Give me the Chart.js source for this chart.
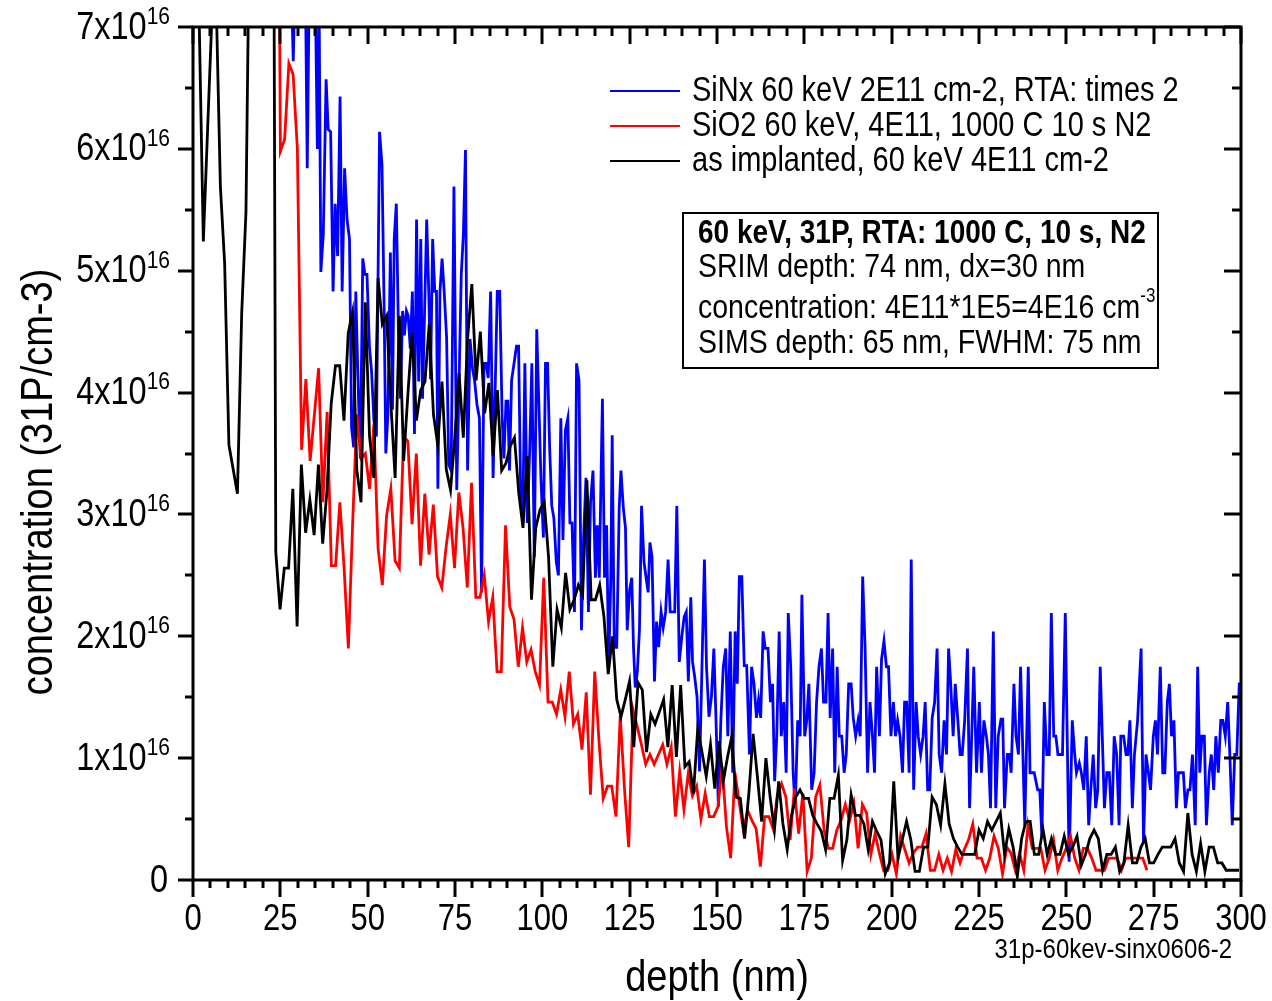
<!DOCTYPE html>
<html>
<head>
<meta charset="utf-8">
<script src="https://cdn.jsdelivr.net/npm/chart.js@4.4.0/dist/chart.umd.min.js"></script>
<style>
  body { margin: 0; background: #fff; }
  canvas { display: block; }
</style>
</head>
<body>
<canvas id="graph" width="1272" height="1001"></canvas>
<script>
// concentrations are in units of 1e16 cm-3
var xTicks = [0, 25, 50, 75, 100, 125, 150, 175, 200, 225, 250, 275, 300];
var yTicks = [0, 1, 2, 3, 4, 5, 6, 7];

var seriesLabels = [
  "SiNx 60 keV 2E11 cm-2, RTA: times 2",
  "SiO2 60 keV, 4E11, 1000 C 10 s N2",
  "as implanted, 60 keV 4E11 cm-2"
];

// as implanted: depth grid start / step (nm)
var blackStart = 0.52, blackStep = 1.22;
var blackConc = [
  12, 7.1, 5.24, 6.16, 7.07, 7.24, 5.69, 5.06, 3.57, 3.37,
  3.17, 4.65, 5.48, 8.4, 10, 11, 11, 10, 14, 2.69,
  2.22, 2.56, 2.56, 3.21, 2.08, 3.41, 2.85, 3.12, 2.83, 3.41,
  2.76, 3.19, 3.91, 4.22, 4.22, 3.77, 4.49, 4.66, 3.37, 3.10,
  4.74, 3.64, 3.30, 4.94, 4.56, 4.63, 3.91, 3.30, 4.63, 3.44,
  3.99, 4.49, 3.77, 4.02, 4.09, 4.56, 3.82, 3.57, 4.09, 3.37,
  3.20, 3.63, 4.16, 3.63, 4.44, 4.89, 4.10, 4.50, 3.83, 4.08,
  3.48, 4.02, 3.36, 3.42, 3.56, 3.63, 3.18, 2.89, 3.48, 2.30,
  2.89, 3.04, 3.10, 2.65, 1.75, 2.22, 2.07, 2.52, 2.22, 2.30,
  2.42, 2.34, 3.28, 2.30, 2.30, 2.42, 2.16, 1.69, 2.00, 1.48,
  1.34, 1.48, 1.63, 1.09, 1.62, 1.56, 1.05, 1.36, 1.28, 1.38,
  1.48, 1.09, 1.60, 1.01, 1.60, 0.93, 0.97, 0.71, 1.24, 1.05,
  0.85, 1.11, 0.75, 1.14, 0.81, 1.01, 1.18, 0.68, 0.67, 0.34,
  0.71, 1.20, 0.85, 0.48, 1.00, 0.68, 0.41, 0.81, 0.46, 0.25,
  0.53, 0.68, 0.74, 0.67, 0.67, 0.53, 0.46, 0.40, 0.25, 0.67,
  0.67, 0.86, 0.16, 0.33, 0.70, 0.53, 0.53, 0.46, 0.25, 0.48,
  0.40, 0.33, 0.05, 0.14, 0.81, 0.18, 0.33, 0.48, 0.33, 0.07,
  0.07, 0.27, 0.27, 0.68, 0.62, 0.45, 0.79, 0.46, 0.34, 0.27,
  0.21, 0.21, 0.21, 0.21, 0.41, 0.34, 0.48, 0.41, 0.48, 0.55,
  0.21, 0.42, 0.27, 0.03, 0.34, 0.48, 0.48, 0.21, 0.21, 0.42,
  0.21, 0.34, 0.21, 0.21, 0.36, 0.21, 0.27, 0.36, 0.12, 0.21,
  0.34, 0.41, 0.34, 0.08, 0.21, 0.21, 0.27, 0.07, 0.14, 0.45,
  0.14, 0.14, 0.27, 0.34, 0.14, 0.14, 0.21, 0.27, 0.27, 0.27,
  0.34, 0.14, 0.07, 0.55, 0.21, 0.07, 0.30, 0.07, 0.27, 0.27,
  0.14, 0.14, 0.08, 0.08, 0.08, 0.08
];

// SiO2 RTA: depth grid start / step (nm)
var redStart = 23.8, redStep = 1.216;
var redConc = [
  12,
  5.98, 6.08, 6.70, 6.61, 6.00, 3.53, 4.11, 3.44, 3.82, 4.20,
  3.10, 3.84, 2.58, 2.58, 3.10, 2.56, 1.90, 2.92, 3.82, 3.46,
  3.50, 3.21, 3.74, 2.72, 2.42, 2.99, 3.21, 2.62, 2.56, 3.64,
  3.60, 2.92, 3.50, 2.58, 3.17, 2.67, 3.08, 2.49, 2.40, 2.73,
  3.00,
  2.56, 3.18, 2.89, 2.40, 3.26, 2.32, 2.32, 2.50, 2.12, 2.32,
  1.71, 1.71, 2.91, 2.24, 2.14, 1.75, 2.07, 1.79, 1.89, 1.71,
  1.60, 2.48, 1.46, 1.46, 1.36, 1.56, 1.34, 1.71, 1.28, 1.36,
  1.07, 1.54, 0.70, 1.71, 1.14, 0.67, 0.77, 0.77, 0.52, 1.35,
  0.75, 0.27, 1.40, 1.26, 1.11, 0.95, 1.03, 0.95, 1.03, 1.11,
  0.95, 1.09, 0.52, 0.89, 0.58, 0.87, 0.69, 0.77, 0.50, 0.71,
  0.52, 0.52,
  0.60, 0.93, 0.44, 0.18, 0.88, 0.64, 0.41, 0.57, 0.49, 0.42,
  0.11, 0.52, 0.52, 0.42, 0.70, 0.79, 0.68, 0.33, 0.75, 0.38,
  0.71, 0.07, 0.18, 0.68, 0.78, 0.41, 0.26, 0.26, 0.41, 0.49,
  0.62, 0.49, 0.63, 0.26, 0.62, 0.55, 0.21, 0.38, 0.22, 0.08,
  0.08, 0.21, 0.05, 0.36, 0.25, 0.14, 0.22, 0.27, 0.27, 0.38,
  0.08, 0.08, 0.21, 0.08, 0.18, 0.07, 0.25, 0.14, 0.25, 0.33,
  0.46,
  0.18, 0.18, 0.08, 0.18, 0.36, 0.26, 0.05, 0.27, 0.22, 0.08,
  0.22, 0.08, 0.45, 0.26, 0.26, 0.26, 0.08, 0.18, 0.33, 0.08,
  0.18, 0.26, 0.36, 0.18, 0.08, 0.26, 0.26, 0.18, 0.08, 0.08,
  0.08, 0.18, 0.18, 0.18, 0.08, 0.18, 0.18, 0.18, 0.18, 0.18,
  0.08
];

// SiNx RTA (times 2): depths
var blueDepth = [
  28.1, 28.7, 29.3, 29.9, 30.5, 31.1, 31.7, 32.1, 32.7, 33.3, 33.9, 34.5, 35.0, 35.6, 36.1,
  36.6, 37.3, 38.1, 38.7, 39.4, 40.1, 40.7, 41.4, 42.1, 42.7, 43.4, 44.1, 44.8, 45.4, 46.0,
  46.6, 47.2, 47.9, 48.6, 49.2, 49.8, 50.5, 51.1, 51.8, 52.5, 53.4, 54.1, 54.7, 55.2, 55.8,
  56.5, 57.1, 57.6, 58.2, 58.8, 59.4, 60.0, 60.5, 61.1, 61.6, 62.2, 62.8, 63.4, 64.0, 64.6,
  65.2, 65.7, 66.3, 66.9, 67.5, 68.0, 68.6, 69.2, 69.7, 70.1, 70.7, 71.3, 71.9, 72.6, 73.2,
  73.9, 74.7, 75.5, 76.1, 76.8, 77.4, 78.0, 78.6, 79.3, 80.0, 80.6, 81.3, 82.0, 82.6, 83.3,
  83.9, 84.5, 85.2, 85.9, 86.5, 87.1, 87.8, 88.5, 89.0, 89.6, 90.1, 90.6, 91.2, 91.9, 92.6,
  93.2, 93.8, 94.4, 95.0, 95.7, 96.4, 97.0, 97.7, 98.4, 99.0, 99.6, 100.3, 100.9, 101.5, 102.1,
  102.7, 103.3, 104.0, 104.6, 105.3, 105.9, 106.6, 107.3, 107.9, 108.5, 109.2, 109.8, 110.5, 111.2, 111.8,
  112.5, 113.2, 113.8, 114.5, 115.2, 115.7, 116.3, 117.2, 117.8, 118.4, 119.0, 119.6, 120.0, 120.6, 121.3,
  122.0, 122.5, 123.2, 123.8, 124.3, 125.0, 125.6, 126.1, 126.6, 127.2, 127.8, 128.4, 129.1, 129.7, 130.3,
  130.8, 131.4, 132.1, 132.7, 133.3, 134.0, 134.6, 135.3, 136.0, 136.6, 137.2, 137.9, 138.5, 139.2, 139.9,
  140.6, 141.2, 141.8, 142.5, 143.0, 143.6, 144.3, 145.0, 145.7, 146.4, 147.0, 147.7, 148.4, 149.1, 149.7,
  150.4, 151.1, 151.8, 152.5, 153.1, 153.8, 154.5, 155.2, 155.8, 156.4, 157.1, 157.8, 158.5, 159.3, 159.9,
  160.6, 161.3, 161.9, 162.5, 163.2, 163.8, 164.6, 165.3, 165.9, 166.5, 167.1, 167.8, 168.4, 169.1, 169.8,
  170.4, 171.1, 171.8, 172.4, 173.1, 173.8, 174.3, 175.1, 175.7, 176.3, 177.1, 177.8, 178.5, 179.2, 179.9,
  180.5, 181.2, 181.8, 182.4, 183.1, 183.7, 184.4, 185.0, 185.7, 186.4, 187.0, 187.7, 188.4, 189.0, 189.7,
  190.4, 191.0, 191.7, 192.4, 193.1, 193.8, 194.5, 195.1, 195.7, 196.5, 197.1, 197.8, 198.5, 199.1, 199.8,
  200.5, 201.1, 201.7, 202.4, 203.1, 203.7, 204.3, 205.0, 205.6, 206.3, 207.0, 207.6, 208.3, 209.0, 209.6,
  210.3, 210.9, 211.6, 212.3, 213.0, 213.6, 214.3, 215.0, 215.7, 216.3, 216.9, 217.6, 218.2, 218.9, 219.6,
  220.2, 220.9, 221.7, 222.3, 223.5, 224.3, 225.1, 225.7, 226.4, 227.2, 227.7, 228.3, 229.1, 229.8, 230.5,
  231.3, 231.8, 232.3, 233.1, 233.7, 234.2, 235.0, 235.6, 236.3, 236.9, 237.5, 238.1, 239.1, 239.6, 240.2,
  240.8, 241.8, 242.4, 243.0, 243.7, 244.4, 245.1, 245.7, 246.4, 247.0, 247.6, 248.3, 248.9, 249.7, 250.8,
  251.7, 252.4, 252.9, 253.7, 254.3, 255.0, 255.7, 256.4, 257.0, 257.7, 258.4, 259.0, 259.7, 260.9, 261.6,
  262.3, 263.0, 263.7, 264.4, 265.1, 265.6, 266.4, 267.1, 267.6, 268.2, 268.9, 269.5, 270.4, 271.4, 272.1,
  272.8, 273.5, 274.1, 274.9, 275.5, 276.1, 276.9, 277.6, 278.2, 278.9, 279.5, 280.1, 280.8, 281.5, 282.1,
  282.8, 283.5, 284.1, 284.8, 285.4, 286.1, 286.9, 287.6, 288.2, 288.8, 289.5, 290.1, 290.9, 291.5, 292.2,
  292.8, 293.5, 294.2, 294.8, 295.5, 296.2, 296.8, 297.5, 298.2, 298.8, 299.5, 300.1
];
var blueConc = [
  7.4, 6.72, 7.5, 8.2, 8.6, 8.0, 7.8, 7.6, 5.84, 7.4, 8.0, 7.8, 7.3, 6.00, 7.2,
  4.99, 5.30, 6.57, 6.16, 6.14, 4.83, 5.55, 5.12, 6.43, 4.83, 5.84, 5.42, 5.26, 3.71, 3.55,
  4.83, 4.13, 3.46, 5.10, 4.97, 4.97, 4.38, 4.18, 3.77, 3.64, 6.14, 5.87, 4.72, 3.50, 3.82,
  5.15, 3.86, 5.26, 5.55, 4.52, 3.95, 4.67, 4.47, 4.67, 4.63, 4.36, 4.83, 3.66, 5.42, 4.09,
  5.26, 3.95, 4.67, 5.42, 4.81, 4.11, 5.26, 4.83, 4.83, 3.21, 4.83, 5.10, 4.83, 4.45, 3.41,
  3.36, 5.69, 3.20, 4.00, 4.97, 5.30, 5.99, 3.36, 4.44, 4.20, 4.10, 3.90, 3.79, 2.36, 4.24,
  4.24, 4.12, 4.83, 3.30, 4.03, 4.83, 4.83, 3.79, 3.46, 3.93, 3.93, 3.36, 4.10, 4.24, 4.38,
  4.38, 3.18, 2.93, 4.24, 2.93, 3.54, 4.24, 2.65, 4.52, 3.91, 3.30, 2.81, 4.24, 4.24, 3.54,
  3.07, 2.97, 2.61, 2.50, 3.79, 2.79, 3.69, 3.79, 2.93, 2.93, 2.20, 4.24, 4.10, 2.05, 2.81,
  3.30, 2.20, 3.10, 3.36, 2.48, 2.91, 2.48, 3.95, 2.48, 2.91, 1.75, 2.48, 3.65, 1.91, 1.91,
  3.05, 3.36, 3.05, 2.89, 2.05, 2.38, 2.48, 1.91, 1.58, 1.71, 2.05, 3.07, 2.61, 2.48, 2.36,
  2.77, 2.65, 1.63, 2.12, 1.91, 2.20, 2.07, 2.20, 2.63, 2.20, 2.20, 2.20, 3.07, 1.79, 1.99,
  2.16, 2.20, 1.63, 2.32, 1.79, 1.67, 1.50, 0.89, 1.75, 2.63, 1.75, 1.34, 1.50, 1.90, 1.33,
  0.60, 1.31, 1.75, 1.90, 1.18, 2.04, 0.88, 2.04, 1.61, 2.49, 2.49, 1.76, 1.76, 1.03, 1.75,
  1.61, 1.33, 1.48, 1.33, 2.04, 1.90, 1.90, 1.46, 1.61, 0.81, 1.18, 2.04, 1.18, 1.46, 0.88,
  2.19, 1.75, 0.88, 0.59, 1.31, 1.18, 2.34, 1.18, 1.31, 1.61, 0.74, 0.88, 1.46, 1.75, 1.90,
  1.46, 1.46, 2.19, 1.33, 1.90, 0.88, 1.75, 1.18, 1.18, 0.88, 1.03, 1.61, 1.61, 1.33, 1.18,
  1.31, 1.18, 2.49, 1.90, 0.88, 1.46, 1.18, 0.88, 1.75, 1.18, 1.81, 1.96, 1.75, 1.75, 1.18,
  1.46, 1.18, 1.31, 1.18, 0.88, 1.46, 1.46, 0.88, 2.63, 0.74, 1.46, 1.18, 1.03, 1.18, 1.46,
  0.74, 0.74, 1.33, 1.46, 1.90, 1.03, 0.88, 1.31, 1.03, 1.90, 1.61, 1.18, 1.61, 1.33, 1.03,
  1.03, 1.31, 1.90, 0.59, 1.75, 0.88, 1.46, 0.88, 1.31, 1.16, 1.03, 0.59, 2.04, 0.59, 1.18,
  1.32, 1.32, 0.59, 1.03, 1.03, 0.88, 1.61, 1.18, 1.03, 1.75, 1.10, 0.45, 1.75, 0.88, 0.88,
  0.88, 0.74, 0.74, 0.36, 1.46, 1.03, 1.03, 2.19, 1.18, 1.18, 1.03, 1.03, 1.03, 2.19, 0.15,
  1.31, 1.03, 0.88, 0.96, 0.88, 0.74, 1.18, 0.45, 0.74, 1.03, 0.59, 0.74, 1.75, 0.59, 0.88,
  0.88, 0.45, 1.18, 1.03, 0.45, 1.18, 1.18, 1.03, 1.03, 1.31, 0.59, 1.03, 1.31, 1.90, 0.31,
  1.03, 0.88, 0.74, 1.18, 1.31, 1.03, 1.75, 0.88, 0.88, 1.46, 1.61, 1.18, 1.31, 0.59, 0.88,
  0.88, 0.88, 0.59, 0.74, 0.74, 1.03, 0.45, 1.75, 0.88, 1.18, 1.18, 0.45, 0.88, 1.03, 0.74,
  1.18, 0.88, 1.31, 1.31, 1.18, 1.46, 1.03, 0.45, 1.03, 1.03, 1.61, 1.61
];

function gridPoints(start, step, values) {
  return values.map(function (v, i) { return { x: start + i * step, y: v }; });
}
function pairPoints(xs, values) {
  return values.map(function (v, i) { return { x: xs[i], y: v }; });
}

var FONT = "'Liberation Sans', Arial, sans-serif";
var STRETCH = 1.18; // the original lettering is taller than Arial at the same width

var plotLayout = {
  id: "plotLayout",
  afterDatasetsDraw: function (chart) {
    var ctx = chart.ctx, a = chart.chartArea;
    var xs = chart.scales.x, ys = chart.scales.y;
    ctx.save();
    ctx.strokeStyle = "#000";
    ctx.fillStyle = "#000";
    ctx.lineWidth = 3;
    ctx.lineCap = "butt";
    ctx.strokeRect(a.left, a.top, a.right - a.left, a.bottom - a.top);

    function seg(x1, y1, x2, y2) {
      ctx.beginPath(); ctx.moveTo(x1, y1); ctx.lineTo(x2, y2); ctx.stroke();
    }
    function text(str, x, y, font, align) {
      ctx.save();
      ctx.font = font;
      ctx.textAlign = align || "left";
      ctx.textBaseline = "middle";
      ctx.translate(x, y);
      ctx.scale(1, STRETCH);
      ctx.fillText(str, 0, 0);
      ctx.restore();
    }
    function width(str, font) {
      ctx.font = font;
      return ctx.measureText(str).width;
    }

    // x ticks: out at bottom, in at top; minor every 5 nm
    for (var v = 0; v <= 300; v += 5) {
      var px = Math.round(xs.getPixelForValue(v));
      var major = v % 25 === 0;
      seg(px, a.bottom, px, a.bottom + (major ? 17 : 8));
      seg(px, a.top, px, a.top + (major ? 17 : 9));
    }
    // y ticks: out at left, in at right; minor every 0.5
    for (var w = 0; w <= 7; w += 0.5) {
      var py = Math.round(ys.getPixelForValue(w));
      var maj = w % 1 === 0;
      seg(a.left, py, a.left - (maj ? 15 : 8), py);
      seg(a.right, py, a.right - (maj ? 17 : 9), py);
    }

    // x tick labels
    xs.ticks.forEach(function (t) {
      text(String(t.value), xs.getPixelForValue(t.value), 920, "31px " + FONT, "center");
    });

    // y tick labels with superscript exponent
    ys.ticks.forEach(function (t) {
      var y = ys.getPixelForValue(t.value);
      if (t.value === 0) {
        text("0", 168, y + 1, "32.5px " + FONT, "right");
        return;
      }
      var sw = width("16", "21px " + FONT);
      text("16", 170 - sw, y - 10, "21px " + FONT, "left");
      text(t.value + "x10", 170 - sw, y + 1, "32.5px " + FONT, "right");
    });

    // axis titles
    text("depth (nm)", (a.left + a.right) / 2, 979, "38px " + FONT, "center");
    ctx.save();
    ctx.translate(40, 482);
    ctx.rotate(-Math.PI / 2);
    ctx.font = "38px " + FONT;
    ctx.textAlign = "center";
    ctx.textBaseline = "middle";
    ctx.scale(1, STRETCH);
    ctx.fillText("concentration (31P/cm-3)", 0, 0);
    ctx.restore();

    // file name tag
    text("31p-60kev-sinx0606-2", 1232, 950, "24px " + FONT, "right");

    // legend
    var legY = [91, 126, 161];
    chart.data.datasets.forEach(function (ds, i) {
      ctx.strokeStyle = ds.borderColor;
      ctx.lineWidth = 2;
      seg(610, legY[i], 680, legY[i]);
      text(ds.label, 692, legY[i] + 1, "29px " + FONT, "left");
    });

    // info box
    ctx.strokeStyle = "#000";
    ctx.lineWidth = 2;
    ctx.strokeRect(683, 213, 475, 155);
    text("60 keV, 31P, RTA: 1000 C, 10 s, N2", 698, 234, "bold 28px " + FONT);
    text("SRIM depth: 74 nm, dx=30 nm", 698, 268, "28.5px " + FONT);
    var conc = "concentration: 4E11*1E5=4E16 cm";
    text(conc, 698, 309, "28.5px " + FONT);
    text("-3", 698 + width(conc, "28.5px " + FONT), 296, "17px " + FONT);
    text("SIMS depth: 65 nm, FWHM: 75 nm", 698, 344, "28.5px " + FONT);
    ctx.restore();
  }
};

var chart = new Chart("graph", {
  type: "scatter",
  data: {
    datasets: [{
      label: seriesLabels[0],
      data: pairPoints(blueDepth, blueConc),
      borderColor: "#0000ff",
      order: 3
    }, {
      label: seriesLabels[1],
      data: gridPoints(redStart, redStep, redConc),
      borderColor: "#ff0000",
      order: 2
    }, {
      label: seriesLabels[2],
      data: gridPoints(blackStart, blackStep, blackConc),
      borderColor: "#000000",
      order: 1
    }]
  },
  options: {
    responsive: false,
    animation: false,
    events: [],
    layout: { padding: { left: 0, right: 31, top: 27, bottom: 0 } },
    datasets: {
      scatter: { showLine: true, pointRadius: 0, borderWidth: 2.8, fill: false, clip: 0 }
    },
    plugins: { legend: { display: false }, tooltip: { enabled: false } },
    scales: {
      x: {
        type: "linear", min: 0, max: 300,
        afterBuildTicks: function (s) { s.ticks = xTicks.map(function (v) { return { value: v }; }); },
        ticks: { display: false },
        grid: { display: false },
        border: { display: false },
        afterFit: function (s) { s.height = 121; }
      },
      y: {
        min: 0, max: 7,
        afterBuildTicks: function (s) { s.ticks = yTicks.map(function (v) { return { value: v }; }); },
        ticks: { display: false },
        grid: { display: false },
        border: { display: false },
        afterFit: function (s) { s.width = 193; }
      }
    }
  },
  plugins: [plotLayout]
});
</script>
</body>
</html>
